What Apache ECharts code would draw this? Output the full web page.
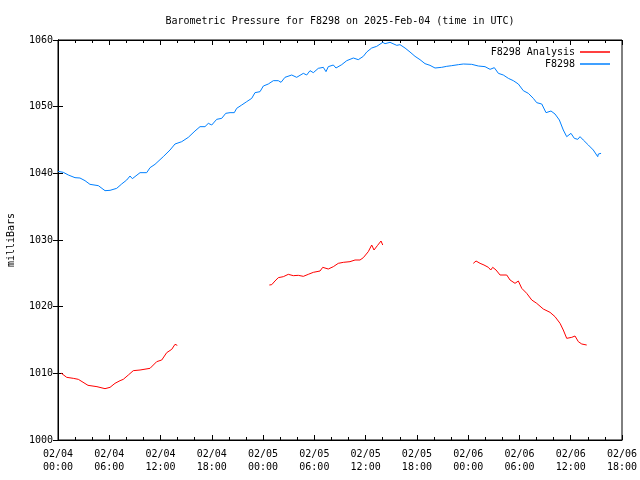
<!DOCTYPE html>
<html>
<head>
<meta charset="utf-8">
<script src="https://cdn.jsdelivr.net/npm/echarts@6/dist/echarts.min.js"></script>
<style>html,body{margin:0;padding:0;background:#fff;}#c{width:640px;height:480px;}</style>
</head>
<body>
<div id="c"></div>
<script>
// Hours since 2025-02-04 00:00 UTC
const xTickLabels = ['02/04\n00:00','02/04\n06:00','02/04\n12:00','02/04\n18:00','02/05\n00:00','02/05\n06:00','02/05\n12:00','02/05\n18:00','02/06\n00:00','02/06\n06:00','02/06\n12:00','02/06\n18:00'];

const stationHours = [0.0,0.23,0.62,1.21,1.99,2.57,3.16,3.74,4.72,5.50,6.09,6.87,7.45,8.04,8.43,8.70,9.60,10.38,10.77,11.35,12.32,13.11,13.69,14.48,15.25,16.03,16.62,17.20,17.59,17.99,18.57,19.16,19.63,20.13,20.63,20.91,21.50,22.08,22.67,23.05,23.64,24.03,24.61,25.20,25.78,26.10,26.56,27.35,27.93,28.71,29.10,29.49,29.88,30.46,31.05,31.36,31.63,32.22,32.53,33.20,33.79,34.56,35.14,35.73,36.13,36.71,37.30,38.00,38.27,38.85,39.64,40.02,40.61,41.19,41.78,42.36,42.95,43.53,44.12,44.90,45.49,46.07,46.85,47.43,48.41,49.19,49.97,50.56,51.06,51.53,52.11,52.70,53.28,53.87,54.45,55.04,55.62,56.02,56.61,57.11,57.69,58.16,58.67,59.13,59.53,60.03,60.42,60.82,61.09,61.47,62.06,62.64,63.16,63.23,63.55];
const stationValues = [1040.3,1040.25,1040.15,1039.75,1039.35,1039.3,1038.9,1038.35,1038.15,1037.4,1037.45,1037.75,1038.4,1039.0,1039.6,1039.2,1040.1,1040.1,1040.85,1041.35,1042.5,1043.5,1044.4,1044.75,1045.4,1046.35,1047.0,1047.0,1047.5,1047.25,1048.1,1048.25,1049.0,1049.1,1049.1,1049.75,1050.25,1050.75,1051.25,1052.1,1052.25,1053.1,1053.4,1053.9,1053.9,1053.65,1054.4,1054.75,1054.4,1055.0,1054.75,1055.4,1055.1,1055.75,1055.9,1055.25,1056.0,1056.25,1055.8,1056.3,1056.9,1057.3,1057.05,1057.55,1058.2,1058.8,1059.05,1059.65,1059.45,1059.65,1059.2,1059.3,1058.8,1058.2,1057.55,1057.05,1056.45,1056.2,1055.8,1055.9,1056.05,1056.15,1056.3,1056.4,1056.35,1056.1,1056.0,1055.6,1055.85,1055.0,1054.75,1054.25,1053.9,1053.4,1052.4,1052.0,1051.25,1050.6,1050.4,1049.1,1049.35,1048.9,1048.0,1046.5,1045.5,1046.0,1045.25,1045.1,1045.5,1045.0,1044.25,1043.5,1042.5,1042.9,1043.0];

const analysisHours = [0.35,1.02,1.79,2.38,3.51,4.56,5.50,6.09,6.67,7.26,7.64,8.23,8.81,9.60,10.77,11.55,12.14,12.72,13.31,13.69,13.96,
  null,
  24.73,25.01,25.39,25.78,26.37,26.95,27.54,28.12,28.71,29.29,29.88,30.66,30.98,31.63,32.22,32.80,33.39,34.17,34.76,35.34,35.73,35.93,36.31,36.71,36.98,37.37,37.80,38.00,
  null,
  48.60,48.92,49.39,49.85,50.36,50.64,50.87,51.26,51.73,52.51,52.90,53.48,53.87,54.27,54.85,55.44,56.02,56.79,57.58,58.16,58.75,59.13,59.53,60.12,60.50,60.89,61.29,61.87];
const analysisValues = [1010.05,1009.4,1009.25,1009.1,1008.2,1008.0,1007.7,1007.9,1008.5,1008.9,1009.1,1009.75,1010.4,1010.5,1010.75,1011.75,1012.0,1013.1,1013.6,1014.35,1014.2,
  null,
  1023.25,1023.3,1023.85,1024.35,1024.5,1024.85,1024.65,1024.7,1024.55,1024.85,1025.15,1025.35,1025.9,1025.65,1026.0,1026.5,1026.65,1026.75,1027.0,1027.0,1027.35,1027.1,1028.25,1029.25,1028.5,1029.15,1029.85,1029.25,
  null,
  1026.5,1026.85,1026.5,1026.25,1025.9,1025.5,1025.9,1025.5,1024.75,1024.75,1024.0,1023.5,1023.85,1022.75,1022.0,1021.0,1020.5,1019.65,1019.15,1018.5,1017.5,1016.5,1015.25,1015.4,1015.6,1014.75,1014.4,1014.25];

function pairs(xs, ys) {
  return xs.map((x, i) => (x === null ? [NaN, '-'] : [x, ys[i]]));
}

const FONT = 'DejaVu Sans Mono';
const chart = echarts.init(document.getElementById('c'), null, {renderer: 'canvas'});
const xCommon = {
  type: 'value', min: 0, max: 66, interval: 6,
  splitLine: {show: false},
  axisLine: {show: true, lineStyle: {color: '#000', width: 1}},
  axisTick: {show: true, inside: true, length: 5, lineStyle: {color: '#000'}},
  minorTick: {show: true, splitNumber: 3, length: 3, lineStyle: {color: '#000'}},
  minorSplitLine: {show: false}
};
const yCommon = {
  type: 'value', min: 1000, max: 1060, interval: 10,
  splitLine: {show: false},
  axisLine: {show: true, lineStyle: {color: '#000', width: 1}},
  axisTick: {show: true, inside: true, length: 5, lineStyle: {color: '#000'}}
};
chart.setOption({
  animation: false,
  backgroundColor: '#fff',
  title: {
    text: 'Barometric Pressure for F8298 on 2025-Feb-04 (time in UTC)',
    left: 335, top: 11, textAlign: 'center',
    textStyle: {fontFamily: FONT, fontSize: 10, fontWeight: 'normal', color: '#000'}
  },
  legend: {
    orient: 'vertical', right: 25, top: 42, align: 'right',
    itemWidth: 30, itemHeight: 1.5, itemGap: 2, icon: 'rect',
    textStyle: {fontFamily: FONT, fontSize: 10, color: '#000', padding: [0, 0, 0, 0]},
    data: [{name: 'F8298 Analysis', itemStyle: {color: '#ff0000'}}, {name: 'F8298', itemStyle: {color: '#0080ff'}}]
  },
  grid: {left: 58, right: 18, top: 40, bottom: 40, containLabel: false, outerBoundsMode: 'none', show: true, borderColor: '#000', borderWidth: 1},
  xAxis: [
    Object.assign({}, xCommon, {
      position: 'bottom',
      axisLabel: {
        fontFamily: FONT, fontSize: 10, color: '#000', margin: 8, lineHeight: 13,
        formatter: v => xTickLabels[Math.round(v / 6)] || ''
      }
    }),
    Object.assign({}, xCommon, {position: 'top', axisLabel: {show: false}})
  ],
  yAxis: [
    Object.assign({}, yCommon, {
      position: 'left',
      name: 'milliBars', nameLocation: 'middle', nameGap: 42, nameRotate: 90,
      nameTextStyle: {fontFamily: FONT, fontSize: 10, color: '#000'},
      axisLabel: {fontFamily: FONT, fontSize: 10, color: '#000', margin: 5, formatter: v => String(v)}
    }),
    Object.assign({}, yCommon, {position: 'right', axisLabel: {show: false}})
  ],
  series: [
    {
      name: 'F8298 Analysis', type: 'line', xAxisIndex: 0, yAxisIndex: 0,
      showSymbol: false, symbol: 'none', connectNulls: false,
      lineStyle: {color: '#ff0000', width: 1}, itemStyle: {color: '#ff0000'},
      data: pairs(analysisHours, analysisValues)
    },
    {
      name: 'F8298', type: 'line', xAxisIndex: 0, yAxisIndex: 0,
      showSymbol: false, symbol: 'none',
      lineStyle: {color: '#0080ff', width: 1}, itemStyle: {color: '#0080ff'},
      data: pairs(stationHours, stationValues)
    }
  ]
});
</script>
</body>
</html>
